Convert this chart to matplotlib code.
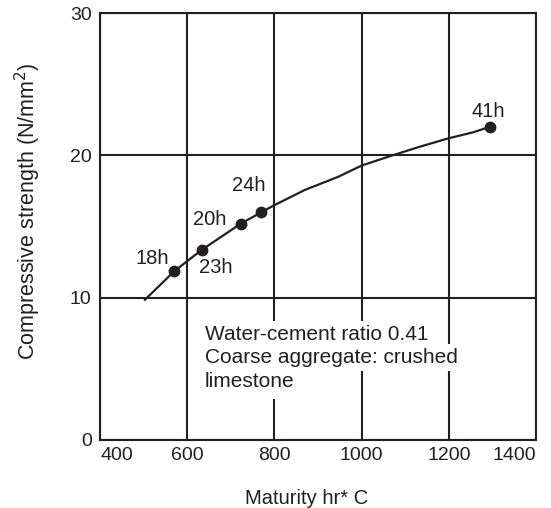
import matplotlib
matplotlib.use("Agg")
import matplotlib.pyplot as plt

plt.rcParams["font.family"] = ["Liberation Sans", "DejaVu Sans"]

INK = "#231f20"

# measured ages (hours), maturity (hr*C) and strength (N/mm2)
AGES = ["18h", "23h", "20h", "24h", "41h"]
MATURITY = [570, 633, 723, 770, 1294]
STRENGTH = [11.85, 13.35, 15.2, 16.0, 22.0]

# fitted curve
CURVE_X = [503, 570, 633, 723, 770, 800, 870, 947, 1000, 1069, 1134, 1200, 1256, 1294]
CURVE_Y = [9.85, 11.85, 13.35, 15.2, 16.0, 16.5, 17.57, 18.5, 19.28, 19.98, 20.61, 21.2, 21.62, 22.0]

XTICKS = [400, 600, 800, 1000, 1200, 1400]
YTICKS = [0, 10, 20, 30]

# label anchors (data coords)
LABEL_POS = [(519, 12.77), (666, 12.13), (651, 15.5), (742, 17.85), (1291, 23.07)]

NOTE = ["Water-cement ratio 0.41", "Coarse aggregate: crushed", "limestone"]

fig = plt.figure(figsize=(5.51, 5.08), dpi=100)
ax = fig.add_axes([0.1815, 0.1339, 0.7913, 0.8405])

ax.set_xlim(400, 1400)
ax.set_ylim(0, 30)
ax.set_xticks(XTICKS)
ax.set_yticks(YTICKS)
ax.tick_params(length=0, labelsize=14, colors=INK, pad=6)
ax.tick_params(axis="x", pad=5)
xl = ax.get_xticklabels()
xl[0].set_horizontalalignment("left")
xl[-1].set_horizontalalignment("right")

for s in ax.spines.values():
    s.set_linewidth(1.5)
    s.set_color(INK)

ax.grid(True, color=INK, linewidth=1.5, zorder=0)
ax.set_axisbelow(True)

ax.plot(CURVE_X, CURVE_Y, color=INK, linewidth=1.6, zorder=3)
ax.plot(MATURITY, STRENGTH, "o", color=INK, markersize=7.5, zorder=4)

for lab, (lx, ly) in zip(AGES, LABEL_POS):
    ax.text(lx, ly, lab, fontsize=14.5, color=INK, ha="center", va="center", zorder=5)

# draw bottom line first so upper lines' glyphs stay on top of its padding
note_rows = list(zip(NOTE, [7.03, 5.41, 3.72], [3, 3, 6]))
for i, (txt, yb, pad) in enumerate(reversed(note_rows)):
    ax.text(641, yb, txt, fontsize=15, color=INK, ha="left", va="baseline",
            zorder=5 + i, bbox=dict(facecolor="white", edgecolor="none", pad=pad))

ax.set_xlabel("Maturity hr* C", fontsize=14.5, color=INK)
ax.set_ylabel("Compressive strength (N/mm$^2$)", fontsize=15.5, color=INK)
ax.xaxis.set_label_coords(0.475, -0.115)
ax.yaxis.set_label_coords(-0.13, 0.535)

fig.savefig("out.png", dpi=100)
